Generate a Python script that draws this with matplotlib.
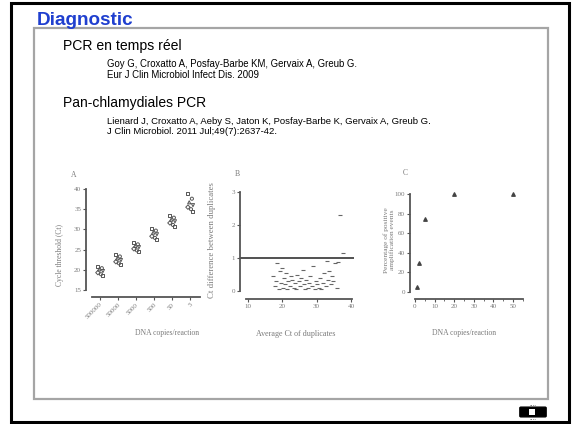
import numpy as np
import matplotlib
matplotlib.use('Agg')
import matplotlib.pyplot as plt
from matplotlib.patches import Rectangle, FancyBboxPatch

# Datos del panel A: Ct por dilucion
a_labels = ["500000", "50000", "5000", "500", "50", "5"]
a_ct_1 = [20.9, 20.4, 20.1, 19.7, 19.3, 18.9, 18.5]
a_ct_2 = [23.8, 23.3, 22.8, 22.4, 22.0, 21.6, 21.3]
a_ct_3 = [26.8, 26.3, 25.9, 25.6, 25.2, 24.8, 24.5]
a_ct_4 = [30.2, 29.7, 29.2, 28.8, 28.3, 27.9, 27.5]
a_ct_5 = [33.4, 32.9, 32.4, 32.0, 31.6, 31.1, 30.7]
a_ct_6 = [38.8, 37.6, 36.7, 36.0, 35.5, 35.0, 34.4]

# Datos del panel B: diferencia de Ct entre duplicados
b_avg = [17.4, 17.9, 18.3, 18.6, 19.0, 19.3, 19.5, 19.8, 20.1, 20.4,
         20.7, 21.0, 21.4, 21.8, 22.1, 22.5, 22.9, 23.3, 23.6, 24.0,
         24.4, 24.8, 25.1, 25.5, 25.9, 26.3, 26.7, 27.0, 27.4, 27.8,
         28.2, 28.6, 29.0, 29.4, 29.8, 30.2, 30.6, 31.0, 31.4, 31.8,
         32.2, 32.6, 33.0, 33.3, 33.7, 34.1, 34.5, 34.9, 35.3, 35.8,
         36.2, 36.8, 37.7]
b_diff = [0.45, 0.15, 0.30, 0.85, 0.05, 0.60, 0.25, 0.70, 0.10, 0.40,
          0.20, 0.55, 0.05, 0.30, 0.15, 0.45, 0.35, 0.10, 0.25, 0.05,
          0.50, 0.30, 0.15, 0.40, 0.65, 0.20, 0.05, 0.35, 0.10, 0.25,
          0.45, 0.15, 0.75, 0.05, 0.30, 0.20, 0.10, 0.40, 0.05, 0.25,
          0.55, 0.15, 0.90, 0.35, 0.60, 0.20, 0.45, 0.30, 0.85, 0.10,
          0.88, 2.30, 1.15]

# Datos del panel C: porcentaje de amplificaciones positivas
c_copies = [1, 2, 5, 20, 50]
c_pct = [5, 30, 75, 100, 100]

W, H = 573, 424
GRIS = '#7a7a7a'
EJE = '#555555'


def main():

    def caja(l, t, r, b):  # Convierte pixeles (izq, arriba, der, abajo) a fraccion de figura
        return [l / W, 1 - b / H, (r - l) / W, (b - t) / H]

    def estilo(ax):  # Estilo comun de los paneles escaneados
        ax.patch.set_alpha(0)
        for s in ['top', 'right']:
            ax.spines[s].set_visible(False)
        for s in ['left', 'bottom']:
            ax.spines[s].set_color(EJE)
            ax.spines[s].set_linewidth(1.3)
        ax.tick_params(colors=EJE, labelcolor=GRIS, labelsize=5, length=2.5,
                       width=0.8, pad=1)
        for lab in ax.get_xticklabels() + ax.get_yticklabels():
            lab.set_family('Liberation Serif')

    fig = plt.figure(figsize=(W / 100, H / 100), dpi=100)
    fig.patch.set_facecolor('white')

    # Marco exterior negro y caja interior con sombra (debajo de los ejes)
    fig.patches.append(Rectangle((11 / W, 1 - 422 / H), 558 / W, 419 / H,
                                 transform=fig.transFigure, fill=False,
                                 edgecolor='black', linewidth=2.2, zorder=-5))
    fig.patches.append(Rectangle((34 / W, 1 - 399 / H), 514 / W, 371 / H,
                                 transform=fig.transFigure, facecolor='white',
                                 edgecolor='#a5a5a5', linewidth=1.6, zorder=-5))

    # Textos de la diapositiva
    fig.text(37 / W, 1 - 25 / H, "Diagnostic", color='#1f3fcf', fontsize=13.6,
             fontweight='bold', family='Liberation Sans', va='baseline')
    fig.text(63 / W, 1 - 50 / H, "PCR en temps réel", fontsize=10.1,
             family='Liberation Sans', va='baseline')
    fig.text(107 / W, 1 - 67 / H, "Goy G, Croxatto A, Posfay-Barbe KM, Gervaix A, Greub G.",
             fontsize=6.9, family='Liberation Sans', va='baseline')
    fig.text(107 / W, 1 - 77.5 / H, "Eur J Clin Microbiol Infect Dis. 2009",
             fontsize=6.9, family='Liberation Sans', va='baseline')
    fig.text(63 / W, 1 - 107 / H, "Pan-chlamydiales PCR", fontsize=10,
             family='Liberation Sans', va='baseline')
    fig.text(107 / W, 1 - 124 / H,
             "Lienard J, Croxatto A, Aeby S, Jaton K, Posfay-Barbe K, Gervaix A, Greub G.",
             fontsize=6.8, family='Liberation Sans', va='baseline')
    fig.text(107 / W, 1 - 134.5 / H, "J Clin Microbiol. 2011 Jul;49(7):2637-42.",
             fontsize=6.8, family='Liberation Sans', va='baseline')

    # Panel A
    axA = fig.add_axes(caja(86, 189, 200, 297))
    desf = [-0.16, 0.1, -0.05, 0.16, -0.12, 0.05, 0.13]
    marcas = ['s', 'o', '^', 'v', 'D', 'o', 's']
    grupos = [a_ct_1, a_ct_2, a_ct_3, a_ct_4, a_ct_5, a_ct_6]
    for i in range(len(grupos)):
        for j in range(len(grupos[i])):
            axA.scatter(i + desf[j], grupos[i][j], s=5, marker=marcas[j],
                        facecolor='none', edgecolor='#555555', linewidth=0.7)
    axA.set_xlim(-0.78, 5.55)
    axA.set_ylim(13.27, 40)
    axA.spines['left'].set_bounds(15, 40)
    axA.spines['bottom'].set_bounds(-0.44, 5.55)
    axA.set_yticks([15, 20, 25, 30, 35, 40])
    axA.set_xticks(range(len(a_labels)))
    axA.set_xticklabels(a_labels, rotation=45, ha='right', rotation_mode='anchor')
    estilo(axA)
    fig.text(60 / W, 1 - 255 / H, "Cycle threshold (Ct)", rotation=90, ha='center',
             va='center', fontsize=5.5, color=GRIS, family='Liberation Serif')
    fig.text(167 / W, 1 - 333 / H, "DNA copies/reaction", ha='center', va='center',
             fontsize=5.5, color=GRIS, family='Liberation Serif')
    fig.text(74 / W, 1 - 175 / H, "A", ha='center', va='center', fontsize=5.5,
             color=GRIS, family='Liberation Serif')

    # Panel B
    axB = fig.add_axes(caja(240, 192, 354, 299))
    axB.scatter(b_avg, b_diff, s=5, marker='_', color='#666666', linewidth=0.8)
    axB.axhline(1, color='#333333', linewidth=1.2)
    axB.set_xlim(7.67, 40.9)
    axB.set_ylim(-0.24, 3)
    axB.spines['left'].set_bounds(0, 3)
    axB.spines['bottom'].set_bounds(9.5, 40.3)
    axB.set_xticks([10, 20, 30, 40])
    axB.set_yticks([0, 1, 2, 3])
    estilo(axB)
    fig.text(212 / W, 1 - 240 / H, "Ct difference between duplicates", rotation=90,
             ha='center', va='center', fontsize=6.3, color=GRIS, family='Liberation Serif')
    fig.text(296 / W, 1 - 334 / H, "Average Ct of duplicates", ha='center', va='center',
             fontsize=5.8, color=GRIS, family='Liberation Serif')
    fig.text(237 / W, 1 - 174 / H, "B", ha='center', va='center', fontsize=5.5,
             color=GRIS, family='Liberation Serif')

    # Panel C
    axC = fig.add_axes(caja(410, 194, 523, 299))
    axC.scatter(c_copies, c_pct, s=6, marker='^', color='#444444', clip_on=False)
    axC.set_xlim(-2.55, 55.1)
    axC.set_ylim(-7.1, 100)
    axC.spines['left'].set_bounds(0, 100)
    axC.spines['bottom'].set_bounds(0, 55)
    axC.set_xticks([0, 10, 20, 30, 40, 50])
    axC.set_xticks(np.arange(0, 56, 5), minor=True)
    axC.set_yticks([0, 20, 40, 60, 80, 100])
    axC.tick_params(which='minor', length=1.5, width=0.6, colors=EJE)
    estilo(axC)
    fig.text(389 / W, 1 - 240 / H, "Percentage of positive\namplification events",
             rotation=90, ha='center', va='center', fontsize=5.3, color=GRIS,
             family='Liberation Serif', linespacing=1.1)
    fig.text(464 / W, 1 - 333 / H, "DNA copies/reaction", ha='center', va='center',
             fontsize=5.5, color=GRIS, family='Liberation Serif')
    fig.text(405 / W, 1 - 173 / H, "C", ha='center', va='center', fontsize=5.5,
             color=GRIS, family='Liberation Serif')

    # Pequeño logo abajo a la derecha
    fig.patches.append(FancyBboxPatch((521 / W, 1 - 416 / H), 24 / W, 8 / H,
                                      boxstyle='round,pad=0.002', transform=fig.transFigure,
                                      facecolor='black', edgecolor='black'))
    fig.patches.append(Rectangle((529 / W, 1 - 415 / H), 6 / W, 6 / H,
                                 transform=fig.transFigure, facecolor='white',
                                 edgecolor='none'))
    fig.text(533 / W, 1 - 406 / H, "....", ha='center', va='baseline', fontsize=4,
             color='black')
    fig.text(533 / W, 1 - 420 / H, "....", ha='center', va='baseline', fontsize=4,
             color='black')

    fig.savefig('out.png', dpi=100)


if __name__ == "__main__":
    main()
